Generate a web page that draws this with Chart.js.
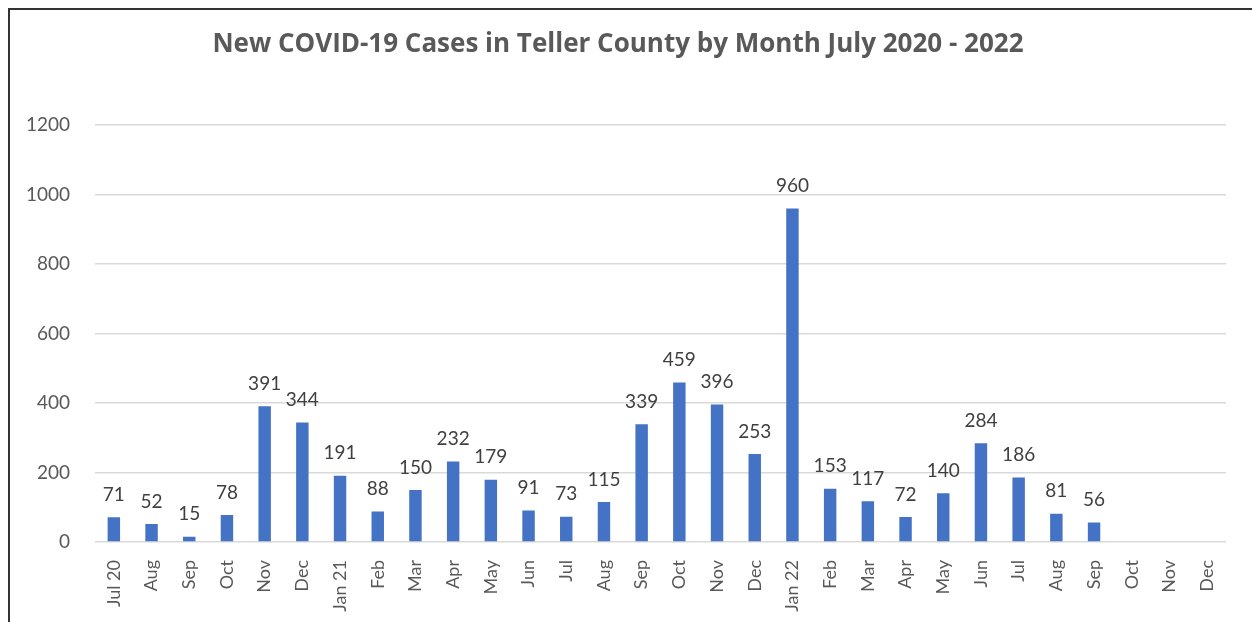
<!DOCTYPE html>
<html lang="en">
<head>
  <meta charset="UTF-8">
  <title>New COVID-19 Cases in Teller County</title>
  <script src="https://cdn.jsdelivr.net/npm/chart.js"></script>
  <style>
    body {
      margin: 0;
      background: #fff;
      overflow: hidden;
    }
    #wrap {
      position: relative;
      width: 1252px;
      height: 622px;
    }
    #frame {
      position: absolute;
      left: 8px;
      top: 8px;
      width: 1260px;
      height: 640px;
      border: 2px solid #333;
      box-sizing: border-box;
      pointer-events: none;
    }
  </style>
</head>
<body>
  <div id="wrap">
    <canvas id="casesChart" width="1252" height="622"></canvas>
    <div id="frame"></div>
  </div>

  <script>
    const months = ['Jul 20', 'Aug', 'Sep', 'Oct', 'Nov', 'Dec',
      'Jan 21', 'Feb', 'Mar', 'Apr', 'May', 'Jun', 'Jul', 'Aug', 'Sep', 'Oct', 'Nov', 'Dec',
      'Jan 22', 'Feb', 'Mar', 'Apr', 'May', 'Jun', 'Jul', 'Aug', 'Sep', 'Oct', 'Nov', 'Dec'];
    const cases = [71, 52, 15, 78, 391, 344,
      191, 88, 150, 232, 179, 91, 73, 115, 339, 459, 396, 253,
      960, 153, 117, 72, 140, 284, 186, 81, 56, null, null, null];
    const yTicks = [0, 200, 400, 600, 800, 1000, 1200];

    // draws the value above each bar (no datalabels plugin offline)
    const barLabels = {
      id: 'barLabels',
      afterDatasetsDraw(chart) {
        const ctx = chart.ctx;
        const meta = chart.getDatasetMeta(0);
        ctx.save();
        ctx.font = '19px Lato';
        ctx.fillStyle = '#404040';
        ctx.textAlign = 'center';
        ctx.textBaseline = 'bottom';
        meta.data.forEach((bar, i) => {
          const v = cases[i];
          if (v == null) return;
          ctx.fillText(String(v), bar.x, bar.y - 13);
        });
        ctx.restore();
      }
    };

    const ctx = document.getElementById('casesChart').getContext('2d');
    new Chart(ctx, {
      type: 'bar',
      data: {
        labels: months,
        datasets: [{
          data: cases,
          backgroundColor: '#4472C4',
          barPercentage: 0.33,
          categoryPercentage: 1
        }]
      },
      options: {
        responsive: false,
        animation: false,
        layout: { padding: { left: 10, right: 26, top: 0, bottom: 0 } },
        plugins: {
          legend: { display: false },
          tooltip: { enabled: false },
          title: {
            display: true,
            text: 'New COVID-19 Cases in Teller County by Month July 2020 - 2022',
            color: '#595959',
            font: { family: 'Open Sans', size: 26, weight: 'bold' },
            padding: { top: 29, bottom: 65 }
          }
        },
        scales: {
          x: {
            grid: { display: false },
            border: { display: false },
            ticks: {
              color: '#595959',
              font: { family: 'Lato', size: 18 },
              minRotation: 90,
              maxRotation: 90,
              padding: 10,
              autoSkip: false
            },
            afterFit(scale) { scale.height = 80; }
          },
          y: {
            min: 0,
            max: 1200,
            afterBuildTicks(scale) { scale.ticks = yTicks.map(v => ({ value: v })); },
            grid: { color: '#d9d9d9', lineWidth: 1.5, drawTicks: false },
            border: { display: false },
            ticks: {
              color: '#595959',
              font: { family: 'Lato', size: 19 },
              padding: 25,
              callback: v => String(v)
            },
            afterFit(scale) { scale.width = 85; }
          }
        }
      },
      plugins: [barLabels]
    });
  </script>
</body>
</html>
